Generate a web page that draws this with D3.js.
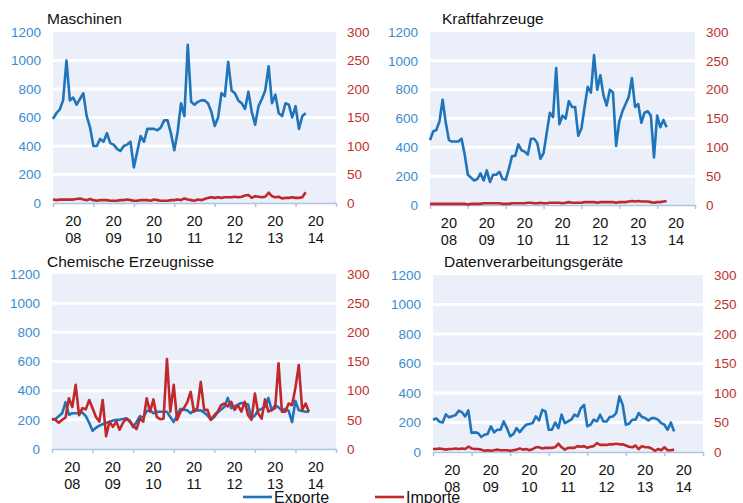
<!DOCTYPE html>
<html>
<head>
<meta charset="utf-8">
<script src="https://cdn.jsdelivr.net/npm/d3@7"></script>
<style>
  body { margin: 0; background: #fff; }
  svg { display: block; font-family: 'Liberation Sans', Arial, sans-serif; }
</style>
</head>
<body>
<svg id="chart" width="743" height="503"></svg>
<script>
// Year categories on the x axis (monthly data from Jan 2008)
const years = ['2008', '2009', '2010', '2011', '2012', '2013', '2014']
const leftTicks = [0, 200, 400, 600, 800, 1000, 1200]
const rightTicks = [0, 50, 100, 150, 200, 250, 300]

const maschinenExporte = [590, 630, 655, 720, 1000, 720, 740, 690, 730, 770, 610, 530,
  400, 400, 450, 430, 490, 420, 410, 380, 365, 400, 410, 430,
  250, 360, 470, 430, 520, 520, 520, 510, 530, 580, 580, 490,
  370, 500, 700, 610, 1110, 710, 690, 710, 720, 720, 700, 640,
  540, 600, 770, 750, 990, 790, 770, 720, 700, 660, 780, 640,
  550, 680, 730, 790, 960, 700, 760, 630, 610, 700, 690, 600,
  680, 520, 610, 630]
const maschinenImporte = [6, 5, 6, 6, 6, 6, 6, 7, 8, 6, 5, 7,
  5, 4, 5, 5, 5, 4, 4, 4, 5, 5, 6, 5,
  4, 4, 5, 5, 5, 4, 6, 5, 4, 4, 4, 5,
  5, 6, 5, 8, 6, 5, 4, 6, 5, 7, 9, 10,
  9, 10, 9, 10, 10, 10, 11, 10, 11, 13, 14, 9,
  12, 11, 10, 11, 18, 12, 10, 11, 8, 9, 9, 10,
  9, 9, 10, 19]

const kfzExporte = [450, 510, 520, 580, 730, 570, 450, 440, 440, 440, 460, 350,
  210, 190, 170, 180, 220, 170, 240, 160, 210, 210, 230, 180,
  175, 250, 340, 340, 420, 380, 370, 350, 460, 460, 430, 320,
  360, 500, 640, 610, 950, 560, 620, 600, 720, 680, 680, 480,
  530, 680, 820, 780, 1040, 800, 900, 760, 690, 800, 780, 410,
  580, 650, 700, 750, 880, 680, 700, 570, 640, 650, 620, 330,
  620, 540, 590, 540]
const kfzImporte = [2, 2, 2, 2, 2, 2, 2, 2, 2, 2, 2, 2,
  1, 2, 2, 2, 2, 3, 3, 3, 3, 3, 3, 2,
  2, 2, 3, 3, 3, 3, 3, 4, 4, 3, 3, 4,
  3, 3, 4, 4, 4, 4, 3, 4, 5, 4, 4, 4,
  4, 5, 5, 5, 5, 4, 5, 5, 5, 5, 5, 4,
  5, 5, 5, 6, 7, 6, 7, 6, 6, 6, 5, 4,
  5, 5, 6, 7]

const chemieExporte = [200, 205, 225, 245, 320, 235, 245, 245, 245, 250, 225, 180,
  125, 145, 160, 170, 180, 185, 195, 200, 200, 205, 210, 195,
  150, 185, 225, 215, 260, 265, 245, 255, 255, 255, 255, 220,
  185, 230, 275, 270, 265, 245, 265, 265, 265, 250, 230, 200,
  220, 250, 270, 290, 350, 280, 290, 305, 315, 313, 305, 210,
  230, 265, 275, 290, 350, 265, 300, 285, 265, 275, 262, 185,
  330, 265, 260, 255, 255]
const chemieImporte = [52, 50, 45, 50, 54, 87, 72, 110, 58, 70, 68, 84,
  70, 55, 47, 84, 22, 47, 38, 47, 33, 45, 52, 47,
  40, 34, 52, 47, 87, 64, 85, 55, 51, 52, 154, 64,
  110, 50, 64, 70, 80, 98, 64, 70, 115, 67, 67, 50,
  58, 64, 75, 78, 73, 81, 67, 75, 64, 81, 58, 50,
  95, 61, 52, 85, 64, 67, 70, 147, 64, 64, 78, 75,
  105, 144, 67, 78, 64]

const datenExporte = [219, 228, 205, 200, 255, 235, 243, 250, 280, 270, 241, 282,
  129, 133, 129, 102, 117, 122, 174, 133, 151, 151, 207, 162,
  106, 122, 162, 135, 162, 185, 190, 196, 241, 214, 286, 275,
  151, 151, 200, 162, 253, 196, 207, 219, 253, 241, 298, 320,
  174, 185, 219, 207, 253, 207, 207, 237, 241, 264, 377, 320,
  185, 192, 219, 219, 264, 237, 230, 214, 230, 230, 219, 196,
  185, 151, 200, 140]
const datenImporte = [5, 5, 6, 5, 4, 5, 5, 6, 5, 6, 5, 9,
  6, 5, 5, 4, 2, 3, 2, 3, 4, 3, 3, 3,
  2, 3, 4, 6, 4, 5, 3, 5, 8, 8, 6, 7,
  7, 7, 8, 14, 8, 4, 7, 7, 7, 10, 9, 10,
  7, 9, 10, 15, 12, 12, 12, 13, 13, 14, 13, 13,
  11, 9, 8, 11, 5, 10, 8, 8, 6, 2, 5, 3,
  8, 3, 3, 4]

const colors = {
  export: '#1f74ba',
  import: '#c0282c',
  leftText: '#3a8ccf',
  rightText: '#c0302d',
  plotBg: '#eaeff9',
  axis: '#aec3e6'
}

const panels = [
  { title: 'Maschinen', exporte: maschinenExporte, importe: maschinenImporte,
    frame: { left: 53, right: 336, top: 32, bottom: 203 }, titleX: 47, titleY: 24 },
  { title: 'Kraftfahrzeuge', exporte: kfzExporte, importe: kfzImporte,
    frame: { left: 430, right: 695, top: 32, bottom: 205 }, titleX: 442, titleY: 24 },
  { title: 'Chemische Erzeugnisse', exporte: chemieExporte, importe: chemieImporte,
    frame: { left: 52, right: 336, top: 274, bottom: 449 }, titleX: 47, titleY: 267 },
  { title: 'Datenverarbeitungsgeräte', exporte: datenExporte, importe: datenImporte,
    frame: { left: 433, right: 703, top: 275, bottom: 452 }, titleX: 444, titleY: 267 }
]

const svg = d3.select('#chart')

panels.forEach(function (panel) {
  renderPanel(svg.append('g').attr('class', 'panel'), panel)
})

renderLegend()

function renderPanel (g, panel) {
  const f = panel.frame
  const x = d3.scaleLinear().domain([0, years.length * 12]).range([f.left, f.right])
  const yLeft = d3.scaleLinear().domain([0, 1200]).range([f.bottom, f.top])
  const yRight = d3.scaleLinear().domain([0, 300]).range([f.bottom, f.top])

  g.append('rect')
    .attr('x', f.left)
    .attr('y', f.top)
    .attr('width', f.right - f.left)
    .attr('height', f.bottom - f.top)
    .attr('fill', colors.plotBg)

  // white gridlines
  g.selectAll('line.grid')
    .data(leftTicks.filter(v => v > 0 && v < 1200))
    .enter()
    .append('line')
    .attr('class', 'grid')
    .attr('x1', f.left)
    .attr('x2', f.right)
    .attr('y1', d => yLeft(d))
    .attr('y2', d => yLeft(d))
    .attr('stroke', '#fff')
    .attr('stroke-width', 3)

  // bottom axis with year boundary ticks
  const xAxis = d3.axisBottom(x)
    .tickValues(d3.range(0, years.length * 12 + 1, 12))
    .tickFormat('')
    .tickSizeInner(4)
    .tickSizeOuter(0)

  const xg = g.append('g')
    .attr('transform', `translate(0,${f.bottom})`)
    .call(xAxis)
  xg.select('.domain').attr('stroke', colors.axis).attr('stroke-width', 1.5)
  xg.selectAll('.tick line').attr('stroke', colors.axis).attr('stroke-width', 1.5)

  const yearLabels = g.selectAll('text.year')
    .data(years)
    .enter()
    .append('text')
    .attr('class', 'year')
    .attr('text-anchor', 'middle')
    .attr('font-size', 14.5)
    .attr('fill', '#111')
  yearLabels.append('tspan')
    .attr('x', (d, i) => x(i * 12 + 6))
    .attr('y', f.bottom + 23)
    .text(d => d.slice(0, 2))
  yearLabels.append('tspan')
    .attr('x', (d, i) => x(i * 12 + 6))
    .attr('y', f.bottom + 40)
    .text(d => d.slice(2))

  const leftAxis = d3.axisLeft(yLeft)
    .tickValues(leftTicks)
    .tickFormat(d3.format('d'))
    .tickSize(0)
    .tickPadding(12)
  const lg = g.append('g')
    .attr('transform', `translate(${f.left},0)`)
    .call(leftAxis)
  lg.select('.domain').remove()
  lg.selectAll('text')
    .attr('fill', colors.leftText)
    .attr('font-size', 13.5)
    .attr('font-family', 'Liberation Sans, Arial, sans-serif')

  const rightAxis = d3.axisRight(yRight)
    .tickValues(rightTicks)
    .tickFormat(d3.format('d'))
    .tickSize(0)
    .tickPadding(11)
  const rg = g.append('g')
    .attr('transform', `translate(${f.right},0)`)
    .call(rightAxis)
  rg.select('.domain').remove()
  rg.selectAll('text')
    .attr('fill', colors.rightText)
    .attr('font-size', 13.5)
    .attr('font-family', 'Liberation Sans, Arial, sans-serif')

  const exportLine = d3.line()
    .x((d, i) => x(i))
    .y(d => yLeft(d))
  const importLine = d3.line()
    .x((d, i) => x(i))
    .y(d => yRight(d))

  g.append('path')
    .datum(panel.exporte)
    .attr('d', exportLine)
    .attr('fill', 'none')
    .attr('stroke', colors.export)
    .attr('stroke-width', 2.6)
    .attr('stroke-linejoin', 'round')

  g.append('path')
    .datum(panel.importe)
    .attr('d', importLine)
    .attr('fill', 'none')
    .attr('stroke', colors.import)
    .attr('stroke-width', 2.6)
    .attr('stroke-linejoin', 'round')

  g.append('text')
    .attr('x', panel.titleX)
    .attr('y', panel.titleY)
    .attr('font-size', 15.5)
    .attr('fill', '#111')
    .text(panel.title)
}

function renderLegend () {
  const items = [
    { label: 'Exporte', color: colors.export, x: 243 },
    { label: 'Importe', color: colors.import, x: 375 }
  ]
  const lg = svg.append('g').attr('class', 'legend')
  const entries = lg.selectAll('g')
    .data(items)
    .enter()
    .append('g')
    .attr('transform', d => `translate(${d.x},497)`)
  entries.append('line')
    .attr('x1', 0)
    .attr('x2', 29)
    .attr('stroke', d => d.color)
    .attr('stroke-width', 2.6)
  entries.append('text')
    .attr('x', 31)
    .attr('y', 5.5)
    .attr('font-size', 16)
    .attr('fill', '#111')
    .text(d => d.label)
}
</script>
</body>
</html>
